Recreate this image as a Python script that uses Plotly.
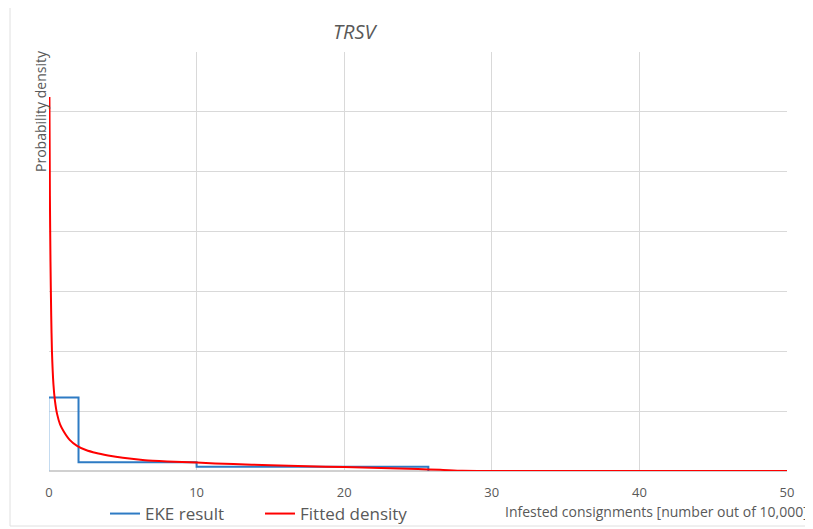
import plotly.graph_objects as go

# EKE result (step histogram-like density)
eke_x = [0, 2, 2, 10, 10, 25.7, 25.7]
eke_y = [1.23, 1.23, 0.145, 0.145, 0.07, 0.07, 0]
eke_first_x = [0, 0]
eke_first_y = [0, 1.23]

# Fitted density
fit_x = [0.03, 0.06, 0.1, 0.15, 0.2, 0.3, 0.4, 0.55, 0.75, 1.0, 1.4, 1.9, 2.5, 3.2, 4, 5,
         6.5, 8, 10, 12.5, 15, 17.5, 20, 22.5, 25, 26.5, 28, 30, 50]
fit_y = [6.25, 4.6, 3.5, 2.6, 2.0, 1.45, 1.18, 0.95, 0.78, 0.66, 0.52, 0.42, 0.35, 0.30, 0.26, 0.22,
         0.18, 0.16, 0.14, 0.115, 0.095, 0.08, 0.065, 0.05, 0.032, 0.02, 0.003, 0, 0]

x_ticks = [0, 10, 20, 30, 40, 50]

FONT = "Open Sans"
GRAY = "#595959"
BLUE = "#2E7BC4"
RED = "#FF0000"

fig = go.Figure()
fig.add_trace(go.Scatter(x=eke_first_x, y=eke_first_y, mode="lines",
                         line=dict(color="#9DC3E6", width=1.2), showlegend=False, hoverinfo="skip"))
fig.add_trace(go.Scatter(x=eke_x, y=eke_y, mode="lines", name="EKE result",
                         line=dict(color=BLUE, width=2)))
fig.add_trace(go.Scatter(x=fit_x, y=fit_y, mode="lines", name="Fitted density",
                         line=dict(color=RED, width=2, shape="spline", smoothing=0.6)))

OFF = 8  # page body margin
W, H = 813 - OFF, 529 - OFF
L, T = 49 - OFF, 52 - OFF
R = W - (787 - OFF)
B = H - (471 - OFF)
pw = W - L - R
ph = H - T - B

def px(xp):
    return (xp - OFF - L) / pw

def py(yp):
    return (H - B - (yp - OFF)) / ph

def cx(xp):
    return (xp - OFF) / W

def cy(yp):
    return (H - (yp - OFF)) / H

fig.update_layout(
    width=W, height=H,
    margin=dict(l=L, r=R, t=T, b=B, autoexpand=False),
    paper_bgcolor="white", plot_bgcolor="white",
    font=dict(family=FONT, color=GRAY),
    xaxis=dict(range=[0, 50], tickvals=x_ticks, ticktext=[str(v) for v in x_ticks],
               showgrid=True, gridcolor="#D9D9D9", gridwidth=1, zeroline=False,
               showline=False, ticks="", ticklabelstandoff=12,
               tickfont=dict(size=13, color=GRAY, family=FONT)),
    yaxis=dict(range=[0, 7], dtick=1, showticklabels=False, showgrid=True,
               gridcolor="#D9D9D9", gridwidth=1, zeroline=True, zerolinecolor="#D0D0D0",
               zerolinewidth=1.5, showline=False, ticks=""),
    legend=dict(orientation="h", xref="container", yref="container",
                x=cx(105), y=cy(514), xanchor="left", yanchor="middle",
                font=dict(size=17, color=GRAY, family=FONT), bgcolor="rgba(0,0,0,0)",
                entrywidth=110, entrywidthmode="pixels", itemwidth=30),
    showlegend=True,
)

fig.add_annotation(text="<i>TRSV</i>", x=px(355), y=py(32), xref="paper", yref="paper",
                   showarrow=False, font=dict(size=20, color=GRAY, family=FONT),
                   xanchor="center", yanchor="middle")
fig.add_annotation(text="Probability density", x=px(40), y=py(111), xref="paper", yref="paper",
                   showarrow=False, textangle=-90, font=dict(size=14, color=GRAY, family=FONT),
                   xanchor="center", yanchor="middle")
fig.add_annotation(text="Infested consignments [number out of 10,000]", x=px(810), y=py(512),
                   xref="paper", yref="paper", showarrow=False,
                   font=dict(size=14, color=GRAY, family=FONT), xanchor="right", yanchor="middle")

fig.add_shape(type="rect", xref="paper", yref="paper", x0=px(10), x1=px(808), y0=py(526), y1=py(7),
              line=dict(color="#E0E0E0", width=1), fillcolor="rgba(0,0,0,0)", layer="below")

fig.write_html("out.html")
